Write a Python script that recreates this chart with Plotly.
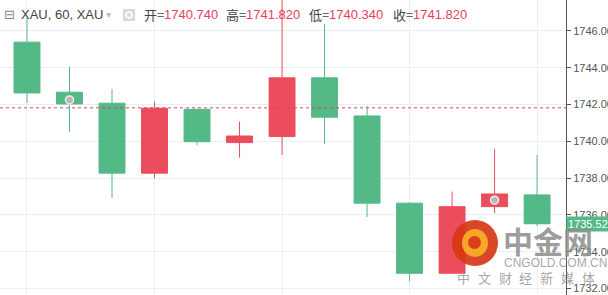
import plotly.graph_objects as go

# ---- data ----
idx = list(range(13))
opens  = [1745.39, 1742.67, 1742.07, 1738.27, 1741.74, 1739.93, 1740.26, 1743.45, 1741.38, 1736.64, 1732.83, 1736.45, 1737.09]
highs  = [1746.75, 1744.04, 1742.85, 1742.16, 1741.78, 1741.07, 1747.90, 1746.38, 1741.92, 1736.70, 1737.27, 1739.59, 1739.26]
lows   = [1742.09, 1740.53, 1736.92, 1737.99, 1739.80, 1739.11, 1739.26, 1739.86, 1735.89, 1732.41, 1732.80, 1736.09, 1735.40]
closes = [1742.63, 1742.03, 1738.27, 1741.80, 1739.98, 1740.29, 1743.45, 1741.31, 1736.64, 1732.83, 1736.45, 1737.14, 1735.52]
event_idx = [1, 11]
event_price = [1742.25, 1736.80]
ref_line_price = 1741.82
y_ticks = [1732, 1734, 1736, 1738, 1740, 1742, 1744, 1746]
header_open, header_high, header_low, header_close = "1740.740", "1741.820", "1740.340", "1741.820"
slogan_chars = ["中", "文", "财", "经", "新", "媒", "体"]

RED = "#eb4d5c"
GREEN = "#53b987"
W, H = 608, 295
PW = 566  # plot width in px

fig = go.Figure()
fig.add_trace(go.Candlestick(
    x=idx, open=opens, high=highs, low=lows, close=closes,
    increasing=dict(line=dict(color=RED, width=1), fillcolor=RED),
    decreasing=dict(line=dict(color=GREEN, width=1), fillcolor=GREEN),
    whiskerwidth=0, hoverinfo="skip", showlegend=False,
))
fig.add_trace(go.Scatter(
    x=event_idx, y=event_price, mode="markers",
    marker=dict(size=8, color="#b8b8b8", line=dict(color="#eeeeee", width=1.5)),
    hoverinfo="skip", showlegend=False,
))

fig.add_shape(type="line", xref="paper", x0=0, x1=1, yref="y", y0=ref_line_price, y1=ref_line_price,
              line=dict(color="#e0405a", width=1, dash="dot"))

def px(x):
    return x / PW

def py(y):
    return 1 - y / H

ann = []
hdr_font = "Liberation Sans, Noto Sans CJK SC, sans-serif"
ann.append(dict(x=px(2), y=py(15), text="⊟", font=dict(size=13, color="#888888", family="DejaVu Sans")))
ann.append(dict(x=px(19), y=py(15), text="XAU, 60, XAU", font=dict(size=13, color="#444444", family=hdr_font)))
ann.append(dict(x=px(104), y=py(15), text="▾", font=dict(size=10, color="#bbbbbb", family="DejaVu Sans")))
items = [("开=", header_open, 142), ("高=", header_high, 224), ("低=", header_low, 307), ("收=", header_close, 391)]
for lab, val, x0 in items:
    ann.append(dict(x=px(x0), y=py(15), text=lab, font=dict(size=13, color="#444444", family="Noto Sans CJK SC")))
    ann.append(dict(x=px(x0 + 20), y=py(15), text=val, font=dict(size=13, color="#e8405e", family=hdr_font)))

# last price label
ann.append(dict(x=1, xref="paper", y=closes[-1], yref="y", xanchor="left", yanchor="middle",
                text=f"{closes[-1]:.3f}", bgcolor=GREEN, font=dict(size=11, color="white", family=hdr_font),
                borderpad=1, showarrow=False, xshift=0))

# watermark
ann.append(dict(x=px(501), y=py(240), text="<b>中金网</b>", font=dict(size=30, color="rgba(140,140,140,0.85)", family="Noto Sans CJK SC")))
ann.append(dict(x=px(502), y=py(263), text="CNGOLD.COM.CN", font=dict(size=12, color="rgba(150,150,150,0.85)", family=hdr_font)))
for i, ch in enumerate(slogan_chars):
    ann.append(dict(x=px(455 + 20.8 * i), y=py(277), text=ch,
                    font=dict(size=13, color="rgba(150,150,150,0.85)", family="Noto Sans CJK SC")))

for a in ann:
    a.setdefault("xref", "paper")
    a.setdefault("yref", "paper")
    a.setdefault("xanchor", "left")
    a.setdefault("yanchor", "middle")
    a.setdefault("showarrow", False)
fig.update_layout(annotations=ann)

# eye icon in header
fig.add_shape(type="rect", xref="paper", yref="paper", x0=px(123), x1=px(135), y0=py(21), y1=py(9),
              fillcolor="#d9d9d9", line=dict(width=0))
fig.add_shape(type="circle", xref="paper", yref="paper", x0=px(126), x1=px(132), y0=py(18), y1=py(12),
              fillcolor="#d9d9d9", line=dict(color="white", width=1.5))

# logo circle
fig.add_shape(type="circle", xref="paper", yref="paper",
              x0=px(452), x1=px(498), y0=py(266), y1=py(220),
              fillcolor="rgba(215,55,20,0.92)", line=dict(width=0))
fig.add_shape(type="circle", xref="paper", yref="paper",
              x0=px(462), x1=px(488), y0=py(257), y1=py(229),
              fillcolor="rgba(248,175,40,0.92)", line=dict(width=0))
fig.add_shape(type="circle", xref="paper", yref="paper",
              x0=px(468), x1=px(481), y0=py(249), y1=py(236),
              fillcolor="rgba(215,55,20,0.92)", line=dict(width=0))

fig.update_layout(
    width=W, height=H,
    margin=dict(l=0, r=W - PW, t=0, b=0),
    paper_bgcolor="white", plot_bgcolor="white",
    boxgap=0.39, boxgroupgap=0,
    xaxis=dict(range=[-0.635, 12.68], rangeslider=dict(visible=False), tick0=0, dtick=3,
               showticklabels=False, showgrid=True, gridcolor="#e9eff3", gridwidth=1,
               zeroline=False, showline=False, ticks=""),
    yaxis=dict(side="right", range=[1731.65, 1747.68], tickvals=y_ticks,
               ticktext=[f"{v:.3f}" for v in y_ticks], showgrid=True, gridcolor="#e9eff3",
               zeroline=False, showline=True, linecolor="#555555", linewidth=1,
               ticks="outside", ticklen=4, tickcolor="#555555",
               tickfont=dict(size=11, color="#555555", family=hdr_font), automargin=False),
)

fig.write_html("out.html")
